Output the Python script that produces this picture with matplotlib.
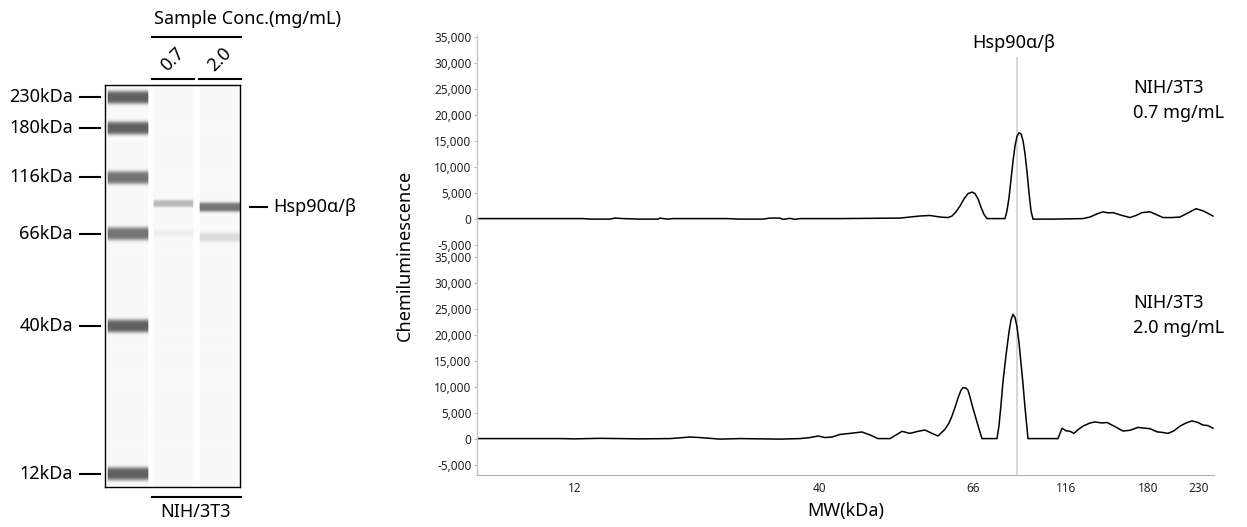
import numpy as np
import matplotlib
matplotlib.use("Agg")
import matplotlib.pyplot as plt
from matplotlib.ticker import FuncFormatter

plt.rcParams['font.family'] = ['Noto Sans', 'DejaVu Sans']

# Ladder markers (kDa) and their migration position (same units on gel and trace axis)
marker_kda = [12, 40, 66, 116, 180, 230]
marker_pos = [0, 245, 398, 491, 573, 624]
marker_dark = [0.60, 0.60, 0.52, 0.52, 0.60, 0.60]

target_name = "Hsp90α/β"
target_pos = 442

cell_line = "NIH/3T3"
conc_labels = ["0.7", "2.0"]

# Bands seen in the sample lanes (position, darkness)
band_pos_07 = [448, 399]
band_dark_07 = [0.25, 0.04]
band_pos_20 = [442, 392]
band_dark_20 = [0.52, 0.11]

# Electropherogram, 0.7 mg/mL
trace_pos_07 = [-98, 8, 15, 35, 40, 48, 65, 83, 85, 92, 98, 152, 165, 188, 195, 205, 208, 215,
                220, 225, 265, 295, 325, 335, 345, 355, 365, 373, 377, 381, 385, 389, 393, 397,
                400, 403, 406, 409, 412, 430, 432, 434, 436, 438, 440, 442, 444, 446, 448, 450,
                452, 454, 456, 458, 478, 508, 515, 522, 528, 533, 538, 547, 555, 561, 567, 575,
                581, 588, 597, 605, 613, 621, 628, 638]
trace_sig_07 = [0, 0, -100, -100, 100, 0, -100, -100, 100, -100, 0, 0, -100, -100, 100, 100, -150, 50,
                -150, 0, 0, 50, 100, 300, 500, 600, 300, 200, 500, 1300, 2400, 3800, 4800, 5100,
                4800, 3800, 2200, 800, 0, 0, 1500, 4000, 7500, 11000, 14000, 15800, 16500, 16300, 15000, 12500,
                9000, 5000, 1500, -100, -100, 0, 300, 900, 1300, 1100, 1150, 600, 200, 600, 1150, 1300,
                800, 200, 200, 300, 1100, 1900, 1500, 500]

# Electropherogram, 2.0 mg/mL
trace_pos_20 = [-98, -15, 0, 25, 65, 95, 115, 125, 145, 165, 205, 225, 235, 243, 250, 257, 265, 275,
                287, 295, 303, 315, 321, 327, 335, 343, 350, 357, 363, 370, 374, 377, 380, 383,
                386, 388, 391, 393, 395, 397, 400, 403, 406, 407, 422, 424, 426, 428, 431, 434,
                436, 438, 440, 442, 444, 446, 448, 450, 452, 453, 483, 487, 491, 495, 499, 503,
                508, 515, 520, 527, 532, 540, 548, 555, 563, 570, 575, 582, 587, 593, 599, 605,
                611, 617, 623, 628, 633, 638]
trace_sig_20 = [0, 0, -50, 50, -50, 0, 300, 200, -100, 0, -100, 0, 200, 500, 200, 300, 800, 1000,
                1270, 700, 0, 0, 700, 1400, 1000, 1400, 1650, 1000, 500, 1800, 3000, 4350, 6000, 7800,
                9300, 9800, 9700, 9300, 8000, 6500, 4500, 2500, 600, 0, 0, 2500, 6500, 11000, 16000, 20500,
                22800, 23900, 23300, 21500, 18500, 14500, 10500, 6000, 2000, 0, 0, 2000, 1500, 1400, 1000, 1700,
                2400, 3000, 3200, 3000, 3100, 2300, 1450, 1600, 2150, 2000, 1900, 1300, 1200, 1000, 1500, 2400,
                3000, 3400, 3100, 2600, 2500, 2000]

W, H = 1247, 527


def fx(px):
    return px / W


def fy(py):
    return 1 - py / H


fig = plt.figure(figsize=(W / 100, H / 100), dpi=100)

# ---------------- gel view ----------------
gel_ylim = (-21.5, 644)
ax_gel = fig.add_axes([fx(105), fy(487), 135 / W, 402 / H])
pgrid = np.linspace(gel_ylim[0], gel_ylim[1], 700)
cols = np.arange(135) + 0.5
img = np.ones((len(pgrid), len(cols)))
lanes = [(marker_pos, marker_dark, 11), (band_pos_07, band_dark_07, 6), (band_pos_20, band_dark_20, 8)]
lane_x = [(2, 44), (48, 89), (94, 136)]
for (pos, dark, w), (x0, x1) in zip(lanes, lane_x):
    prof = np.full_like(pgrid, 0.025)
    for p, d in zip(pos, dark):
        prof += d * np.exp(-((pgrid - p) / w) ** 4)
    edge = np.clip(np.minimum(cols - x0, x1 - cols) / 1.5, 0, 1)
    img -= prof[:, None] * edge[None, :]
ax_gel.imshow(img, cmap='gray', vmin=0, vmax=1, aspect='auto', origin='lower',
              extent=(0, 135, gel_ylim[0], gel_ylim[1]), interpolation='bilinear')
ax_gel.set_xlim(0, 135)
ax_gel.set_ylim(*gel_ylim)
ax_gel.set_xticks([])
ax_gel.set_yticks([])
for s in ax_gel.spines.values():
    s.set_color('black')
    s.set_linewidth(1.0)

for k, p in zip(marker_kda, marker_pos):
    ax_gel.plot([-25, -5], [p, p], color='black', lw=1.5, clip_on=False)
    ax_gel.text(-32, p, f"{k}kDa", ha='right', va='center', fontsize=13)

ax_gel.plot([145, 162], [target_pos, target_pos], color='black', lw=1.5, clip_on=False)
ax_gel.text(168, target_pos, target_name, ha='left', va='center', fontsize=13)

# header / footer annotations
fig.text(fx(248), fy(19), "Sample Conc.(mg/mL)", ha='center', va='center', fontsize=13)
fig.add_artist(plt.Line2D([fx(152), fx(241)], [fy(37), fy(37)], color='black', lw=1.5))
for lab, (x0, x1) in zip(conc_labels, [(152, 194), (199, 241)]):
    fig.text(fx((x0 + x1) / 2), fy(59), lab, ha='center', va='center', rotation=45, fontsize=13)
    fig.add_artist(plt.Line2D([fx(x0), fx(x1)], [fy(79), fy(79)], color='black', lw=1.5))
fig.add_artist(plt.Line2D([fx(152), fx(241)], [fy(497), fy(497)], color='black', lw=1.5))
fig.text(fx(196), fy(512), cell_line, ha='center', va='center', fontsize=13)

# ---------------- electropherograms ----------------
ax_top = fig.add_axes([fx(477), fy(255), (1214 - 477) / W, 220 / H])
ax_bot = fig.add_axes([fx(477), fy(475), (1214 - 477) / W, 220 / H])

traces = [(ax_top, trace_pos_07, trace_sig_07, "0.7 mg/mL", 88),
          (ax_bot, trace_pos_20, trace_sig_20, "2.0 mg/mL", 303)]
for ax, xp, yv, conc, ytxt in traces:
    ax.plot(xp, yv, color='black', lw=1.1)
    ax.set_xlim(-98, 639)
    ax.set_ylim(-7000, 35300)
    ax.set_yticks(np.arange(-5000, 35001, 5000))
    ax.yaxis.set_major_formatter(FuncFormatter(lambda v, _: f"{int(v):,}"))
    ax.tick_params(axis='y', labelsize=8.5, length=2, width=0.8, color='#bbbbbb',
                   labelcolor='#222222', pad=2)
    for side in ['top', 'right', 'bottom']:
        ax.spines[side].set_visible(False)
    ax.spines['left'].set_color('#c8c8c8')
    ax.spines['left'].set_linewidth(1.0)
    ax.patch.set_alpha(0)
    # sample annotation
    fig.text(fx(1133), fy(ytxt), cell_line, fontsize=13, va='center', ha='left')
    fig.text(fx(1133), fy(ytxt + 25), conc, fontsize=13, va='center', ha='left')

# target line
ax_top.axvline(target_pos, ymin=0, ymax=0.895, color='#d4d4d4', lw=1.3, zorder=0)
ax_bot.axvline(target_pos, color='#d4d4d4', lw=1.3, zorder=0)
ax_top.text(target_pos - 3, 0.9636, target_name, transform=ax_top.get_xaxis_transform(),
            ha='center', va='center', fontsize=13)

ax_top.set_xticks([])
ax_bot.spines['bottom'].set_visible(True)
ax_bot.spines['bottom'].set_color('#b0b0b0')
ax_bot.set_xticks(marker_pos)
ax_bot.set_xticklabels([str(k) for k in marker_kda])
ax_bot.tick_params(axis='x', labelsize=8.5, length=0, pad=5, labelcolor='#222222')
ax_bot.set_xlabel("MW(kDa)", fontsize=13, labelpad=5)

fig.text(fx(405), fy(255), "Chemiluminescence", rotation=90, ha='center', va='center', fontsize=13)

fig.savefig("out.png", dpi=100)
